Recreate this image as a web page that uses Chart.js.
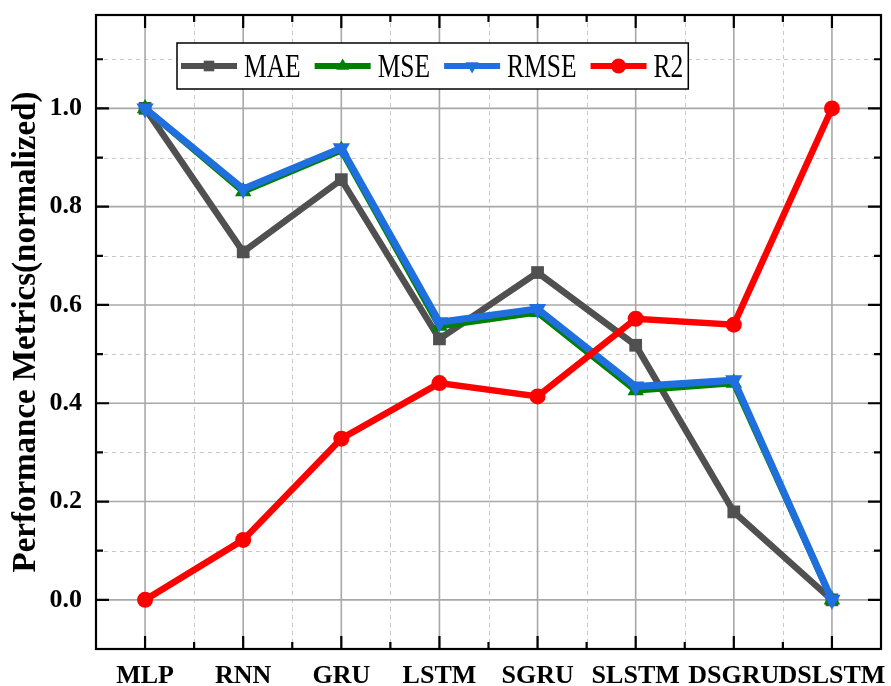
<!DOCTYPE html>
<html>
<head>
<meta charset="utf-8">
<script src="https://cdn.jsdelivr.net/npm/chart.js@4"></script>
<style>
	body { margin: 0; background: #fff; }
	#wrap { width: 891px; height: 686px; }
</style>
</head>
<body>
<div id="wrap"><canvas id="metricsChart" width="891" height="686"></canvas></div>
<script>
const models = ["MLP", "RNN", "GRU", "LSTM", "SGRU", "SLSTM", "DSGRU", "DSLSTM"];
const maeValues = [1.0, 0.708, 0.855, 0.531, 0.666, 0.518, 0.179, 0.0];
const mseValues = [1.0, 0.831, 0.915, 0.557, 0.585, 0.426, 0.441, 0.0];
const rmseValues = [1.0, 0.836, 0.919, 0.565, 0.592, 0.434, 0.447, 0.0];
const r2Values = [0.0, 0.122, 0.328, 0.441, 0.414, 0.572, 0.560, 1.0];
const yTicks = [0.0, 0.2, 0.4, 0.6, 0.8, 1.0];
const yMinorTicks = [0.1, 0.3, 0.5, 0.7, 0.9, 1.1];

const fontFamily = "'Liberation Serif', 'Times New Roman', serif";
Chart.defaults.font.family = fontFamily;

// grid, inward ticks and frame, drawn from the scales
const framePlugin = {
	id: "frame",
	beforeDatasetsDraw(chart) {
		const { ctx, chartArea: a, scales: { x, y } } = chart;
		ctx.save();
		// minor dashed grid
		ctx.strokeStyle = "#c8c8c8";
		ctx.lineWidth = 1;
		ctx.setLineDash([4, 4]);
		yMinorTicks.forEach((v) => {
			const py = Math.round(y.getPixelForValue(v)) + 0.5;
			ctx.beginPath();
			ctx.moveTo(a.left, py);
			ctx.lineTo(a.right, py);
			ctx.stroke();
		});
		for (let i = 0; i < models.length - 1; i++) {
			const px = Math.round((x.getPixelForValue(i) + x.getPixelForValue(i + 1)) / 2) + 0.5;
			ctx.beginPath();
			ctx.moveTo(px, a.top);
			ctx.lineTo(px, a.bottom);
			ctx.stroke();
		}
		// major solid grid
		ctx.setLineDash([]);
		ctx.strokeStyle = "#a8a8a8";
		ctx.lineWidth = 1.6;
		yTicks.forEach((v) => {
			const py = y.getPixelForValue(v);
			ctx.beginPath();
			ctx.moveTo(a.left, py);
			ctx.lineTo(a.right, py);
			ctx.stroke();
		});
		models.forEach((m, i) => {
			const px = x.getPixelForValue(i);
			ctx.beginPath();
			ctx.moveTo(px, a.top);
			ctx.lineTo(px, a.bottom);
			ctx.stroke();
		});
		ctx.restore();
	},
	afterDraw(chart) {
		const { ctx, chartArea: a, scales: { x, y } } = chart;
		ctx.save();
		ctx.strokeStyle = "#000";
		ctx.lineWidth = 2.2;
		ctx.strokeRect(a.left, a.top, a.right - a.left, a.bottom - a.top);

		const major = 13, minor = 7;
		const hTick = (py, len) => {
			ctx.beginPath();
			ctx.moveTo(a.left, py);
			ctx.lineTo(a.left + len, py);
			ctx.moveTo(a.right, py);
			ctx.lineTo(a.right - len, py);
			ctx.stroke();
		};
		const vTick = (px, len) => {
			ctx.beginPath();
			ctx.moveTo(px, a.bottom);
			ctx.lineTo(px, a.bottom - len);
			ctx.moveTo(px, a.top);
			ctx.lineTo(px, a.top + len);
			ctx.stroke();
		};
		yTicks.forEach((v) => hTick(y.getPixelForValue(v), major));
		yMinorTicks.forEach((v) => hTick(y.getPixelForValue(v), minor));
		models.forEach((m, i) => vTick(x.getPixelForValue(i), major));
		for (let i = 0; i < models.length - 1; i++) {
			vTick((x.getPixelForValue(i) + x.getPixelForValue(i + 1)) / 2, minor);
		}
		ctx.restore();
		drawLegend(chart);
	},
};

function drawMarker(ctx, style, px, py, r, color) {
	ctx.fillStyle = color;
	ctx.beginPath();
	if (style === "rect") {
		const s = r * Math.SQRT1_2;
		ctx.rect(px - s, py - s, 2 * s, 2 * s);
	} else if (style === "circle") {
		ctx.arc(px, py, r, 0, Math.PI * 2);
	} else {
		const dir = style === "down" ? -1 : 1;
		ctx.moveTo(px, py - dir * r);
		ctx.lineTo(px + r * 0.866, py + dir * r * 0.5);
		ctx.lineTo(px - r * 0.866, py + dir * r * 0.5);
		ctx.closePath();
	}
	ctx.fill();
}

// legend box inside the plot, like the original figure
function drawLegend(chart) {
	const { ctx, chartArea: a } = chart;
	const left = a.left + 81, top = a.top + 28, height = 46;
	const cy = top + height / 2;
	const squeeze = 0.75;
	ctx.save();
	ctx.font = "34px " + fontFamily;
	let xPos = left + 4;
	const items = chart.data.datasets.map((ds) => {
		const w = ctx.measureText(ds.label).width * squeeze;
		const item = { ds, x: xPos, w };
		xPos += 56 + 7 + w + 14;
		return item;
	});
	const right = xPos - 14 + 5;
	ctx.fillStyle = "#fff";
	ctx.fillRect(left, top, right - left, height);
	ctx.strokeStyle = "#000";
	ctx.lineWidth = 1.5;
	ctx.strokeRect(left, top, right - left, height);

	items.forEach(({ ds, x, w }) => {
		ctx.strokeStyle = ds.borderColor;
		ctx.lineWidth = 6;
		ctx.beginPath();
		ctx.moveTo(x, cy);
		ctx.lineTo(x + 56, cy);
		ctx.stroke();
		drawMarker(ctx, ds.legendMarker, x + 28, cy, 7.5, ds.borderColor);
		ctx.save();
		ctx.translate(x + 63, cy + 11);
		ctx.scale(squeeze, 1);
		ctx.fillStyle = "#000";
		ctx.textBaseline = "alphabetic";
		ctx.fillText(ds.label, 0, 0);
		ctx.restore();
	});
	ctx.restore();
}

const ctx = document.getElementById("metricsChart").getContext("2d");

new Chart(ctx, {
	type: "line",
	data: {
		labels: models,
		datasets: [
			{
				label: "MAE",
				data: maeValues,
				borderColor: "#505050",
				backgroundColor: "#505050",
				borderWidth: 6.5,
				pointStyle: "rect",
				pointRadius: 9,
				pointBorderWidth: 0,
				legendMarker: "rect",
				order: 4,
			},
			{
				label: "MSE",
				data: mseValues,
				borderColor: "#008000",
				backgroundColor: "#008000",
				borderWidth: 6.5,
				pointStyle: "triangle",
				pointRadius: 9.5,
				pointBorderWidth: 0,
				legendMarker: "up",
				order: 3,
			},
			{
				label: "RMSE",
				data: rmseValues,
				borderColor: "#1f6fdf",
				backgroundColor: "#1f6fdf",
				borderWidth: 7,
				pointStyle: "triangle",
				rotation: 180,
				pointRadius: 10,
				pointBorderWidth: 0,
				legendMarker: "down",
				order: 2,
			},
			{
				label: "R2",
				data: r2Values,
				borderColor: "#ff0000",
				backgroundColor: "#ff0000",
				borderWidth: 6.5,
				pointStyle: "circle",
				pointRadius: 8,
				pointBorderWidth: 0,
				legendMarker: "circle",
				order: 1,
			},
		],
	},
	options: {
		responsive: false,
		animation: false,
		devicePixelRatio: 1,
		layout: { padding: { left: 0, top: 15, right: 8, bottom: 0 } },
		plugins: {
			legend: { display: false },
			tooltip: { enabled: false },
		},
		elements: { line: { tension: 0 } },
		scales: {
			x: {
				offset: true,
				grid: { display: false, drawTicks: false },
				border: { display: false },
				ticks: {
					autoSkip: false,
					maxRotation: 0,
					minRotation: 0,
					padding: 12,
					color: "#000",
					font: { size: 26, weight: "bold" },
				},
				afterFit: (scale) => {
					scale.height = 37;
					scale.paddingLeft = 0;
					scale.paddingRight = 0;
				},
			},
			y: {
				min: -0.1,
				max: 1.19,
				grid: { display: false, drawTicks: false },
				border: { display: false },
				afterBuildTicks: (scale) => {
					scale.ticks = yTicks.map((v) => ({ value: v }));
				},
				ticks: {
					padding: 14,
					color: "#000",
					font: { size: 26, weight: "bold" },
					callback: (v) => Number(v).toFixed(1),
				},
				title: {
					display: true,
					text: "Performance Metrics(normalized)",
					color: "#000",
					font: { size: 33, weight: "bold", lineHeight: 1.2 },
					padding: { top: 7, bottom: 0 },
				},
				afterFit: (scale) => {
					scale.width = 96;
					scale.paddingTop = 0;
					scale.paddingBottom = 0;
				},
			},
		},
	},
	plugins: [framePlugin],
});
</script>
</body>
</html>
